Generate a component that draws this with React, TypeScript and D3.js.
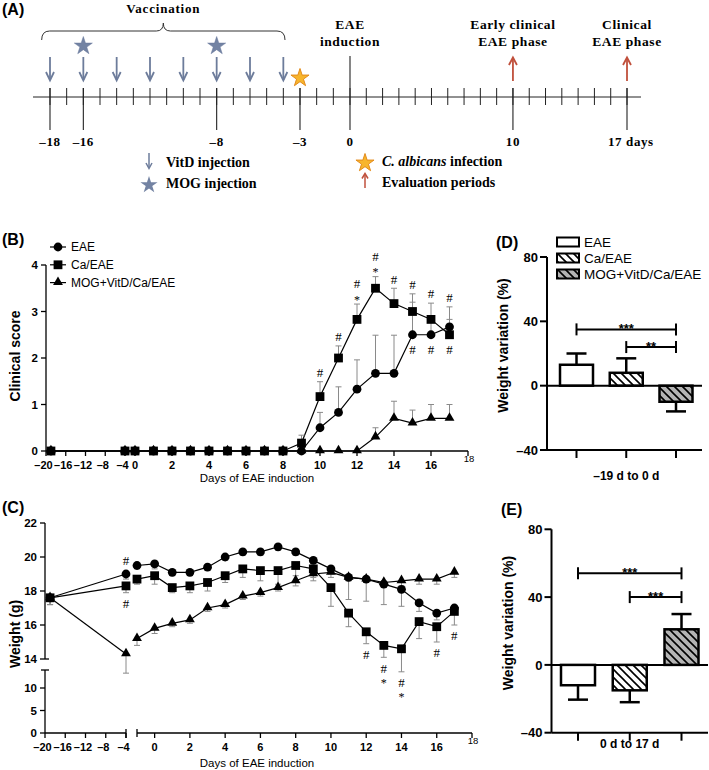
import React from "react";
import * as d3 from "d3";

const SANS = "Arial, 'Liberation Sans', Helvetica, sans-serif";
const SERIF = "'Times New Roman', 'Liberation Serif', Times, serif";

// ---------------- Panel A: timeline ----------------
const timelineTickDays = d3.range(-18, 18);
const timelineMajorDays = [-18, -16, -8, -3, 0, 10, 17];
const timelineMajorLabels = ["–18", "–16", "–8", "–3", "0", "10", "17 days"];
const vitdDays = [-18, -16, -14, -12, -10, -8, -6, -4];
const mogDays = [-16, -8];
const candidaDays = [-3];
const evalDays = [10, 17];
const phaseDays = [0, 10, 17];
const phaseTitles = [["EAE", "induction"], ["Early clinical", "EAE phase"], ["Clinical", "EAE phase"]];

// ---------------- Series ----------------
const seriesNames = ["EAE", "Ca/EAE", "MOG+VitD/Ca/EAE"];
const seriesShapes = ["circle", "square", "triangle"];

// ---------------- Panel B: clinical score ----------------
const scoreDays = [-19, -4, 0, 1, 2, 3, 4, 5, 6, 7, 8, 9, 10, 11, 12, 13, 14, 15, 16, 17];
const eaeScore = [0, 0, 0, 0, 0, 0, 0, 0, 0, 0, 0, 0, 0.5, 0.83, 1.33, 1.67, 1.67, 2.5, 2.5, 2.67];
const eaeScoreSem = [0, 0, 0, 0, 0, 0, 0, 0, 0, 0, 0, 0, 0.33, 0.55, 0.63, 0.82, 0.82, 0.7, 0.4, 0.43];
const caScore = [0, 0, 0, 0, 0, 0, 0, 0, 0, 0, 0, 0.17, 1.17, 2.0, 2.83, 3.5, 3.17, 3.0, 2.83, 2.5];
const caScoreSem = [0, 0, 0, 0, 0, 0, 0, 0, 0, 0, 0, 0.17, 0.32, 0.26, 0.33, 0.25, 0.33, 0.38, 0.35, 0.33];
const mogScore = [0, 0, 0, 0, 0, 0, 0, 0, 0, 0, 0, 0, 0, 0, 0, 0.3, 0.7, 0.6, 0.7, 0.7];
const mogScoreSem = [0, 0, 0, 0, 0, 0, 0, 0, 0, 0, 0, 0, 0, 0, 0, 0.2, 0.37, 0.28, 0.3, 0.3];
const scoreTicksY = [0, 1, 2, 3, 4];
const bTicksSeg1 = [-20, -16, -12, -8, -4];
const bTicksSeg2 = [0, 2, 4, 6, 8, 10, 12, 14, 16, 18];
const bHashAboveDays = [10, 11, 12, 13, 14, 15, 16, 17];
const bStarAboveDays = [12, 13];
const bHashBelowDays = [15, 16, 17];

// ---------------- Panel C: weight ----------------
const weightDays = [-19, -4, -1, 0, 1, 2, 3, 4, 5, 6, 7, 8, 9, 10, 11, 12, 13, 14, 15, 16, 17];
const eaeWeight = [17.6, 19.0, 19.5, 19.6, 19.1, 19.1, 19.4, 20.0, 20.3, 20.3, 20.6, 20.3, 19.8, 19.3, 18.8, 18.7, 18.4, 18.1, 17.3, 16.7, 17.0];
const eaeWeightSem = [0.4, 0.3, 0.2, 0.3, 0.2, 0.2, 0.2, 0.2, 0.2, 0.2, 0.2, 0.2, 0.2, 0.3, 1.3, 1.3, 1.2, 1.0, 0.5, 0.4, 0.3];
const caWeight = [17.6, 18.3, 18.7, 18.9, 18.2, 18.3, 18.5, 18.9, 19.3, 19.2, 19.2, 19.5, 19.3, 18.2, 16.7, 15.6, 14.8, 14.6, 16.2, 15.9, 16.8];
const caWeightSem = [0.4, 0.4, 0.3, 0.5, 0.3, 0.4, 0.5, 0.4, 0.5, 0.6, 0.8, 0.6, 0.5, 1.1, 0.8, 0.7, 0.7, 1.0, 1.0, 0.9, 0.8];
const mogWeight = [17.6, 14.3, 15.2, 15.8, 16.1, 16.3, 17.0, 17.2, 17.7, 17.9, 18.2, 18.6, 19.0, 19.1, 18.8, 18.7, 18.5, 18.6, 18.7, 18.7, 19.1];
const mogWeightSem = [0.4, 1.0, 0.4, 0.3, 0.2, 0.2, 0.2, 0.2, 0.2, 0.2, 0.2, 0.3, 0.4, 0.3, 0.2, 0.2, 0.3, 0.3, 0.3, 0.3, 0.3];
const weightTicksUpper = [14, 16, 18, 20, 22];
const weightTicksLower = [0, 5, 10];
const cTicksSeg1 = [-20, -16, -12, -8, -4];
const cTicksSeg2 = [0, 2, 4, 6, 8, 10, 12, 14, 16, 18];
const cHashAboveEaeDays = [-4];
const cHashBelowCaDays = [-4, 12, 13, 14, 16, 17];
const cStarBelowCaDays = [13, 14];

// ---------------- Panels D / E: weight variation ----------------
const groups = ["EAE", "Ca/EAE", "MOG+VitD/Ca/EAE"];
const groupFills = ["url(#fillWhite)", "url(#hatchWhite)", "url(#hatchGrey)"];
const variationTicks = [-40, 0, 40, 80];
const dMeans = [13, 8, -10];
const dSems = [7, 9, 6];
const dSig = [
  { from: 0, to: 2, level: 35, label: "***" },
  { from: 1, to: 2, level: 24, label: "**" },
];
const eMeans = [-12, -15, 21];
const eSems = [8.5, 7, 9];
const eSig = [
  { from: 0, to: 2, level: 54, label: "***" },
  { from: 1, to: 2, level: 40, label: "***" },
];

const fmtTick = (v: number) => (v < 0 ? "–" + Math.abs(v) : String(v));

function Marker({ shape, x, y }: { shape: string; x: number; y: number }) {
  if (shape === "circle") return <circle cx={x} cy={y} r={4.4} fill="#000" />;
  if (shape === "square") return <rect x={x - 4.4} y={y - 4.4} width={8.8} height={8.8} fill="#000" />;
  const p = d3.symbol().type(d3.symbolTriangle).size(42)() as string;
  return <path d={p} transform={`translate(${x},${y - 0.5})`} fill="#000" />;
}

function BarPanel(props: {
  means: number[];
  sems: number[];
  sig: { from: number; to: number; level: number; label: string }[];
  axisX: number;
  axisRight: number;
  yTop: number;
  yBottom: number;
  cx0: number;
  cx1: number;
  barW: number;
  xLabel: string;
  xLabelY: number;
  panel: string;
  panelX: number;
  panelY: number;
  legendY?: number;
}) {
  const { means, sems, sig, axisX, axisRight, yTop, yBottom, cx0, cx1, barW } = props;
  const y = d3.scaleLinear().domain([-40, 80]).range([yBottom, yTop]);
  const x = d3.scalePoint<number>().domain([0, 1, 2]).range([cx0, cx1]);
  const titleY = (yTop + yBottom) / 2 - 8;
  return (
    <g fontFamily={SANS}>
      <text x={props.panelX} y={props.panelY} fontSize={16} fontWeight="bold">{props.panel}</text>
      <line x1={axisX} x2={axisX} y1={yTop} y2={yBottom} stroke="#000" strokeWidth={2} />
      <line x1={axisX} x2={axisRight} y1={yBottom} y2={yBottom} stroke="#000" strokeWidth={2} />
      {variationTicks.map((t) => (
        <g key={t}>
          <line x1={axisX - 7} x2={axisX} y1={y(t)} y2={y(t)} stroke="#000" strokeWidth={2} />
          <text x={axisX - 9} y={y(t)} dy="0.36em" textAnchor="end" fontSize={13} fontWeight="bold">{fmtTick(t)}</text>
        </g>
      ))}
      {groups.map((g, i) => (
        <line key={g} x1={x(i)} x2={x(i)} y1={yBottom} y2={yBottom + 8} stroke="#000" strokeWidth={2} />
      ))}
      <text
        transform={`translate(${axisX - 39},${titleY}) rotate(-90)`}
        textAnchor="middle"
        fontSize={14}
        fontWeight="bold"
      >
        Weight variation (%)
      </text>
      <text x={(cx0 + cx1) / 2} y={props.xLabelY} textAnchor="middle" fontSize={12} fontWeight="bold">{props.xLabel}</text>
      {means.map((m, i) => {
        const xe = x(i) as number;
        const end = m + Math.sign(m) * sems[i];
        return (
          <g key={"e" + i} stroke="#000" strokeWidth={2.5}>
            <line x1={xe} x2={xe} y1={y(m)} y2={y(end)} />
            <line x1={xe - 10} x2={xe + 10} y1={y(end)} y2={y(end)} />
          </g>
        );
      })}
      {means.map((m, i) => {
        const xb = (x(i) as number) - barW / 2;
        const top = y(Math.max(0, m));
        const bot = y(Math.min(0, m));
        return <rect key={"b" + i} x={xb} y={top} width={barW} height={bot - top} fill={groupFills[i]} stroke="#000" strokeWidth={2.5} />;
      })}
      <line x1={axisX} x2={axisRight} y1={y(0)} y2={y(0)} stroke="#000" strokeWidth={2} />
      {sig.map((s, i) => {
        const x1 = x(s.from) as number;
        const x2 = x(s.to) as number;
        const ys = y(s.level);
        return (
          <g key={"s" + i}>
            <line x1={x1} x2={x2} y1={ys} y2={ys} stroke="#000" strokeWidth={2} />
            <line x1={x1} x2={x1} y1={ys - 6} y2={ys + 6} stroke="#000" strokeWidth={2} />
            <line x1={x2} x2={x2} y1={ys - 6} y2={ys + 6} stroke="#000" strokeWidth={2} />
            <text x={(x1 + x2) / 2} y={ys + 4} textAnchor="middle" fontSize={13} fontWeight="bold">{s.label}</text>
          </g>
        );
      })}
      {props.legendY !== undefined &&
        groups.map((g, i) => {
          const ly = (props.legendY as number) + i * 16;
          return (
            <g key={"l" + i}>
              <rect x={axisX + 10} y={ly - 4.5} width={22} height={9} fill={groupFills[i]} stroke="#000" strokeWidth={2} />
              <text x={axisX + 37} y={ly} dy="0.36em" fontSize={13.5}>{g}</text>
            </g>
          );
        })}
    </g>
  );
}

export default function App() {
  // ---------- Panel A ----------
  const xA = d3.scaleLinear().domain([-18, 0, 17]).range([50, 350, 627]);
  const aY = 97;
  const starPath = (R: number) => d3.symbol().type(d3.symbolStar).size((R * R) / 0.8908)() as string;
  const braceL = xA(-18.5);
  const braceR = xA(-3.9);
  const braceM = (braceL + braceR) / 2;
  const braceD = `M${braceL},40 Q${braceL},31 ${braceL + 8},31 L${braceM - 7},31 Q${braceM},31 ${braceM},23 Q${braceM},31 ${braceM + 7},31 L${braceR - 8},31 Q${braceR},31 ${braceR},40`;
  const blue = "#6d7c9b";
  const red = "#c0503c";

  // ---------- Panel B ----------
  const xB1 = d3.scaleLinear().domain([-20, -4]).range([46, 125]);
  const xB2 = d3.scaleLinear().domain([0, 18]).range([135, 468]);
  const xB = (d: number) => (d <= -4 ? xB1(d) : xB2(d));
  const yB = d3.scaleLinear().domain([0, 4]).range([451, 265]);
  const bSeries = [
    { shape: seriesShapes[0], mean: eaeScore, sem: eaeScoreSem },
    { shape: seriesShapes[2], mean: mogScore, sem: mogScoreSem },
    { shape: seriesShapes[1], mean: caScore, sem: caScoreSem },
  ];
  const bLine = (vals: number[]) =>
    d3.line<number>().x((_, i) => xB(scoreDays[i])).y((v) => yB(v))(vals) as string;
  const bErrTop = (day: number) => {
    const i = scoreDays.indexOf(day);
    return Math.min(...[eaeScore, caScore].map((m, k) => yB(m[i] + [eaeScoreSem, caScoreSem][k][i])));
  };

  // ---------- Panel C ----------
  const xC1 = d3.scaleLinear().domain([-20, -4]).range([45, 126]);
  const xC2 = d3.scaleLinear().domain([-1, 18]).range([137, 472]);
  const xC = (d: number) => (d <= -4 ? xC1(d) : xC2(d));
  const yCu = d3.scaleLinear().domain([14, 22]).range([659, 523]);
  const yCl = d3.scaleLinear().domain([0, 14]).range([733, 670]);
  const yC = (v: number) => (v >= 14 ? yCu(v) : yCl(v));
  const cSeries = [
    { shape: seriesShapes[0], mean: eaeWeight, sem: eaeWeightSem },
    { shape: seriesShapes[2], mean: mogWeight, sem: mogWeightSem },
    { shape: seriesShapes[1], mean: caWeight, sem: caWeightSem },
  ];
  const cLine = (vals: number[], idx: number[]) =>
    d3.line<number>().x((i) => xC(weightDays[i])).y((i) => yC(vals[i]))(idx) as string;
  const seg1Idx = weightDays.map((d, i) => i).filter((i) => weightDays[i] <= -4);
  const seg2Idx = weightDays.map((d, i) => i).filter((i) => weightDays[i] > -4);

  const hashY = (center: number) => center + 4.3;
  const starY = (center: number) => center + 6.5;
  const negShift = (t: number) => (t < 0 ? -2.5 : 0);

  return (
    <svg width={709} height={770} style={{ position: "absolute", left: 0, top: 0, background: "#fff" }} fontFamily={SANS}>
      <defs>
        <pattern id="fillWhite" patternUnits="userSpaceOnUse" width={8} height={8}>
          <rect width={8} height={8} fill="#fff" />
        </pattern>
        <pattern id="hatchWhite" patternUnits="userSpaceOnUse" width={8} height={8}>
          <rect width={8} height={8} fill="#fff" />
          <path d="M-1,-1 L9,9 M-1,7 L1,9 M7,-1 L9,1" stroke="#000" strokeWidth={1.6} />
        </pattern>
        <pattern id="hatchGrey" patternUnits="userSpaceOnUse" width={8} height={8}>
          <rect width={8} height={8} fill="#b4b4b4" />
          <path d="M-1,-1 L9,9 M-1,7 L1,9 M7,-1 L9,1" stroke="#000" strokeWidth={1.6} />
        </pattern>
      </defs>
      <rect width={709} height={770} fill="#fff" />

      {/* =================== Panel A =================== */}
      <g>
        <text x={2} y={15} fontSize={16} fontWeight="bold" fontFamily={SANS}>(A)</text>
        <text x={braceM} y={13} textAnchor="middle" fontFamily={SERIF} fontWeight="bold" fontSize={13} letterSpacing={0.8}>Vaccination</text>
        <path d={braceD} fill="none" stroke="#333" strokeWidth={1} />
        {phaseDays.map((d, i) => (
          <g key={"ph" + i} fontFamily={SERIF} fontWeight="bold" fontSize={13.5} textAnchor="middle" letterSpacing={0.6}>
            <text x={xA(d)} y={29}>{phaseTitles[i][0]}</text>
            <text x={xA(d)} y={46}>{phaseTitles[i][1]}</text>
          </g>
        ))}
        <line x1={33} x2={641} y1={aY} y2={aY} stroke="#222" strokeWidth={1} />
        {timelineTickDays.map((d) => (
          <line key={"t" + d} x1={xA(d)} x2={xA(d)} y1={aY - 9} y2={aY + 8} stroke="#222" strokeWidth={1} />
        ))}
        {timelineMajorDays.map((d, i) => (
          <g key={"m" + d}>
            <line x1={xA(d)} x2={xA(d)} y1={d === 0 ? 56 : aY - 9} y2={130} stroke="#222" strokeWidth={1.1} />
            <text
              x={d === 17 ? xA(d) - 19 : xA(d)}
              y={146}
              textAnchor={d === 17 ? "start" : "middle"}
              fontFamily={SERIF}
              fontWeight="bold"
              fontSize={13}
              letterSpacing={0.6}
            >
              {timelineMajorLabels[i]}
            </text>
          </g>
        ))}
        {vitdDays.map((d) => (
          <g key={"v" + d} stroke={blue} strokeWidth={1.8} fill="none">
            <line x1={xA(d)} x2={xA(d)} y1={57} y2={80} />
            <polyline points={`${xA(d) - 4},72 ${xA(d)},80.5 ${xA(d) + 4},72`} />
          </g>
        ))}
        {mogDays.map((d) => (
          <path key={"s" + d} d={starPath(9.5)} transform={`translate(${xA(d)},46)`} fill="#7383a3" stroke="#66769a" strokeWidth={0.5} />
        ))}
        {candidaDays.map((d) => (
          <path key={"c" + d} d={starPath(9.5)} transform={`translate(${xA(d)},78)`} fill="#f7b52c" stroke="#e38b1c" strokeWidth={1} />
        ))}
        {evalDays.map((d) => (
          <g key={"e" + d} stroke={red} strokeWidth={1.8} fill="none">
            <line x1={xA(d)} x2={xA(d)} y1={81} y2={58} />
            <polyline points={`${xA(d) - 4},65 ${xA(d)},57.5 ${xA(d) + 4},65`} />
          </g>
        ))}
        <g fontFamily={SERIF} fontWeight="bold" fontSize={14}>
          <g stroke={blue} strokeWidth={1.5} fill="none">
            <line x1={149} x2={149} y1={153} y2={168} />
            <polyline points="146,163 149,168.5 152,163" />
          </g>
          <text x={166} y={167}>VitD injection</text>
          <path d={starPath(9)} transform="translate(149,185)" fill="#7383a3" />
          <text x={166} y={188}>MOG injection</text>
          <path d={starPath(9.5)} transform="translate(365,163)" fill="#f7b52c" stroke="#e38b1c" strokeWidth={1} />
          <text x={382} y={166}>
            <tspan fontStyle="italic">C. albicans</tspan> infection
          </text>
          <g stroke={red} strokeWidth={1.5} fill="none">
            <line x1={365} x2={365} y1={188} y2={174} />
            <polyline points="362,178.5 365,173.5 368,178.5" />
          </g>
          <text x={382} y={187}>Evaluation periods</text>
        </g>
      </g>

      {/* =================== Panel B =================== */}
      <g>
        <text x={2} y={245} fontSize={16} fontWeight="bold">(B)</text>
        <line x1={46} x2={46} y1={yB(4)} y2={yB(0)} stroke="#000" strokeWidth={1.3} />
        <line x1={46} x2={xB(18)} y1={yB(0)} y2={yB(0)} stroke="#000" strokeWidth={1.3} />
        {scoreTicksY.map((t) => (
          <g key={"by" + t}>
            <line x1={41} x2={46} y1={yB(t)} y2={yB(t)} stroke="#000" strokeWidth={1.3} />
            <text x={38} y={yB(t)} dy="0.36em" textAnchor="end" fontSize={11.5} fontWeight="bold">{t}</text>
          </g>
        ))}
        {bTicksSeg1.concat(bTicksSeg2).map((t) => (
          <g key={"bx" + t}>
            <line x1={xB(t)} x2={xB(t)} y1={yB(0)} y2={yB(0) + 5} stroke="#000" strokeWidth={1.3} />
            {t === 18 ? (
              <text x={xB(t) + 1} y={462} textAnchor="middle" fontSize={9.5}>{t}</text>
            ) : (
              <text x={xB(t) + negShift(t)} y={469} textAnchor="middle" fontSize={11} fontWeight="bold">{fmtTick(t)}</text>
            )}
          </g>
        ))}
        <text x={257} y={482} textAnchor="middle" fontSize={11.5}>Days of EAE induction</text>
        <text transform={`translate(20,356) rotate(-90)`} textAnchor="middle" fontSize={14} fontWeight="bold">Clinical score</text>
        {bSeries.map((s, k) => (
          <path key={"bl" + k} d={bLine(s.mean)} fill="none" stroke="#000" strokeWidth={1.2} />
        ))}
        {bSeries.map((s, k) =>
          s.mean.map((m, i) =>
            s.sem[i] > 0 ? (
              <g key={`be${k}-${i}`} stroke="#8a8a8a" strokeWidth={1}>
                <line x1={xB(scoreDays[i])} x2={xB(scoreDays[i])} y1={yB(m)} y2={yB(m + s.sem[i])} />
                <line x1={xB(scoreDays[i]) - 3} x2={xB(scoreDays[i]) + 3} y1={yB(m + s.sem[i])} y2={yB(m + s.sem[i])} />
              </g>
            ) : null
          )
        )}
        {bSeries.map((s, k) =>
          s.mean.map((m, i) => <Marker key={`bm${k}-${i}`} shape={s.shape} x={xB(scoreDays[i])} y={yB(m)} />)
        )}
        {bHashAboveDays.map((d) => {
          const top = bErrTop(d);
          const hasStar = bStarAboveDays.includes(d);
          return (
            <g key={"bh" + d} textAnchor="middle">
              <text x={xB(d)} y={hashY(hasStar ? top - 20 : top - 9)} fontFamily={SERIF} fontSize={13} fill="#000">#</text>
              {hasStar && <text x={xB(d)} y={starY(top - 7)} fontFamily={SERIF} fontSize={12} fill="#000">*</text>}
            </g>
          );
        })}
        {bHashBelowDays.map((d) => {
          const i = scoreDays.indexOf(d);
          const low = Math.max(yB(eaeScore[i]), yB(caScore[i]));
          return (
            <text key={"bb" + d} x={xB(d)} y={hashY(low + 15)} textAnchor="middle" fontFamily={SERIF} fontSize={13} fill="#000">#</text>
          );
        })}
        {[0, 1, 2].map((k) => {
          const ly = 247 + k * 17.8;
          return (
            <g key={"bleg" + k}>
              <line x1={50} x2={66} y1={ly} y2={ly} stroke="#000" strokeWidth={1.2} />
              <Marker shape={seriesShapes[k]} x={58} y={ly} />
              <text x={71} y={ly} dy="0.36em" fontSize={12}>{seriesNames[k]}</text>
            </g>
          );
        })}
      </g>

      {/* =================== Panel C =================== */}
      <g>
        <text x={2} y={513} fontSize={16} fontWeight="bold">(C)</text>
        <line x1={45} x2={45} y1={yCu(22)} y2={yCu(14)} stroke="#000" strokeWidth={1.3} />
        <line x1={45} x2={45} y1={yCl(14)} y2={yCl(0)} stroke="#000" strokeWidth={1.3} />
        <line x1={41} x2={49} y1={yCl(14)} y2={yCl(14)} stroke="#000" strokeWidth={1.3} />
        {weightTicksUpper.map((t) => (
          <g key={"cyu" + t}>
            <line x1={40} x2={t === 14 ? 49 : 45} y1={yCu(t)} y2={yCu(t)} stroke="#000" strokeWidth={1.3} />
            <text x={37} y={yCu(t)} dy="0.36em" textAnchor="end" fontSize={11.5} fontWeight="bold">{t}</text>
          </g>
        ))}
        {weightTicksLower.map((t) => (
          <g key={"cyl" + t}>
            <line x1={40} x2={45} y1={yCl(t)} y2={yCl(t)} stroke="#000" strokeWidth={1.3} />
            <text x={37} y={yCl(t)} dy="0.36em" textAnchor="end" fontSize={11.5} fontWeight="bold">{t}</text>
          </g>
        ))}
        <line x1={45} x2={xC1(-4)} y1={yCl(0)} y2={yCl(0)} stroke="#000" strokeWidth={1.3} />
        <line x1={xC2(-1)} x2={xC2(18)} y1={yCl(0)} y2={yCl(0)} stroke="#000" strokeWidth={1.3} />
        <line x1={xC1(-4)} x2={xC1(-4)} y1={yCl(0) - 4} y2={yCl(0) + 5} stroke="#000" strokeWidth={1.3} />
        <line x1={xC2(-1)} x2={xC2(-1)} y1={yCl(0) - 4} y2={yCl(0) + 4} stroke="#000" strokeWidth={1.3} />
        {cTicksSeg1.concat(cTicksSeg2).map((t) => (
          <g key={"cx" + t}>
            <line x1={xC(t)} x2={xC(t)} y1={yCl(0)} y2={yCl(0) + 5} stroke="#000" strokeWidth={1.3} />
            {t === 18 ? (
              <text x={xC(t) + 1} y={744} textAnchor="middle" fontSize={9.5}>{t}</text>
            ) : (
              <text x={xC(t) + negShift(t)} y={751} textAnchor="middle" fontSize={11} fontWeight="bold">{fmtTick(t)}</text>
            )}
          </g>
        ))}
        <text x={257} y={767} textAnchor="middle" fontSize={11.5}>Days of EAE induction</text>
        <text transform={`translate(20,634) rotate(-90)`} textAnchor="middle" fontSize={14} fontWeight="bold">Weight (g)</text>
        {cSeries.map((s, k) => (
          <g key={"cl" + k}>
            <path d={cLine(s.mean, seg1Idx)} fill="none" stroke="#000" strokeWidth={1.2} />
            <path d={cLine(s.mean, seg2Idx)} fill="none" stroke="#000" strokeWidth={1.2} />
          </g>
        ))}
        {cSeries.map((s, k) =>
          s.mean.map((m, i) => {
            const xe = xC(weightDays[i]);
            const y2 = yC(m - s.sem[i]);
            return (
              <g key={`ce${k}-${i}`} stroke="#8a8a8a" strokeWidth={1}>
                <line x1={xe} x2={xe} y1={yC(m)} y2={y2} />
                <line x1={xe - 3} x2={xe + 3} y1={y2} y2={y2} />
              </g>
            );
          })
        )}
        {cSeries.map((s, k) =>
          s.mean.map((m, i) => <Marker key={`cm${k}-${i}`} shape={s.shape} x={xC(weightDays[i])} y={yC(m)} />)
        )}
        {cHashAboveEaeDays.map((d) => {
          const i = weightDays.indexOf(d);
          return (
            <text key={"cha" + d} x={xC(d)} y={hashY(yC(eaeWeight[i]) - 13)} textAnchor="middle" fontFamily={SERIF} fontSize={13} fill="#000">#</text>
          );
        })}
        {cHashBelowCaDays.map((d) => {
          const i = weightDays.indexOf(d);
          const bottom = yC(caWeight[i] - caWeightSem[i]);
          return (
            <g key={"chb" + d} textAnchor="middle">
              <text x={xC(d)} y={hashY(bottom + 11)} fontFamily={SERIF} fontSize={13} fill="#000">#</text>
              {cStarBelowCaDays.includes(d) && (
                <text x={xC(d)} y={starY(bottom + 23)} fontFamily={SERIF} fontSize={12} fill="#000">*</text>
              )}
            </g>
          );
        })}
      </g>

      {/* =================== Panel D =================== */}
      <BarPanel
        means={dMeans}
        sems={dSems}
        sig={dSig}
        axisX={547}
        axisRight={702}
        yTop={257}
        yBottom={450}
        cx0={576.5}
        cx1={676}
        barW={33}
        xLabel="–19 d to 0 d"
        xLabelY={480}
        panel="(D)"
        panelX={496}
        panelY={248}
        legendY={242}
      />

      {/* =================== Panel E =================== */}
      <BarPanel
        means={eMeans}
        sems={eSems}
        sig={eSig}
        axisX={551.5}
        axisRight={708}
        yTop={529.3}
        yBottom={732.7}
        cx0={578}
        cx1={681.5}
        barW={34}
        xLabel="0 d to 17 d"
        xLabelY={748}
        panel="(E)"
        panelX={501}
        panelY={515}
      />
    </svg>
  );
}
